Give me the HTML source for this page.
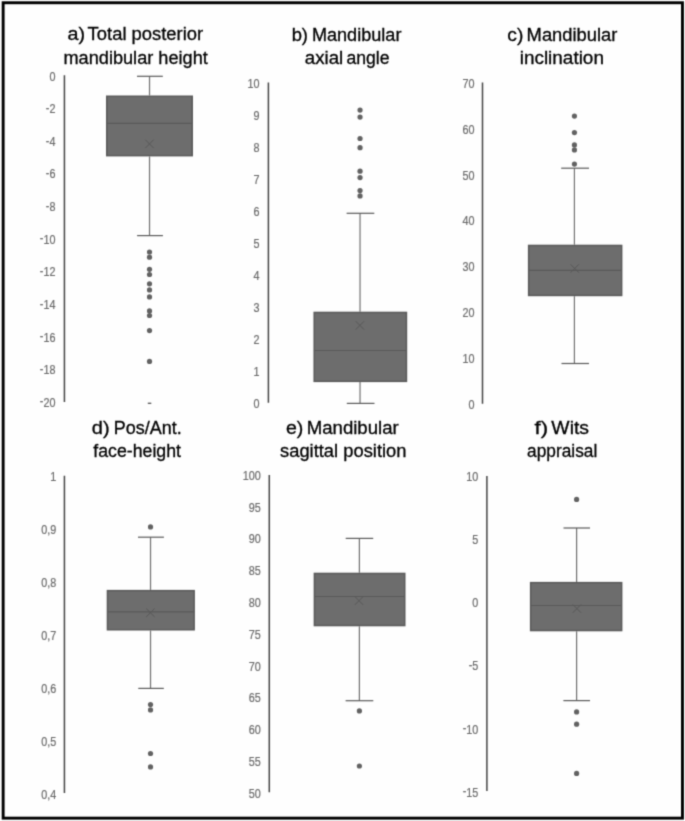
<!DOCTYPE html><html><head><meta charset="utf-8"><title>Box plots</title>
<style>html,body{margin:0;padding:0;background:#fff;}body{width:685px;height:821px;overflow:hidden;}svg{display:block;}text{font-family:"Liberation Sans",sans-serif;}</style></head><body>
<svg width="685" height="821" viewBox="0 0 685 821">
<defs><filter id="soft" filterUnits="userSpaceOnUse" x="0" y="0" width="685" height="821" color-interpolation-filters="sRGB"><feConvolveMatrix order="3" kernelMatrix="1 4 1 4 16 4 1 4 1" divisor="36" edgeMode="duplicate"/></filter></defs>
<rect x="0" y="0" width="685" height="821" fill="#fefefe"/>
<g filter="url(#soft)">
<text transform="scale(1,1)" x="67.49" y="40" font-size="17.5" fill="#000000" stroke="#000000" stroke-width="0.3" textLength="17.53" lengthAdjust="spacingAndGlyphs">a)</text>
<text transform="scale(1,1)" x="87.64" y="40" font-size="17.5" fill="#000000" stroke="#000000" stroke-width="0.3" textLength="115.49" lengthAdjust="spacingAndGlyphs">Total posterior</text>
<text transform="scale(1,1)" x="63.5" y="63.5" font-size="17.5" fill="#000000" stroke="#000000" stroke-width="0.3" textLength="144.27" lengthAdjust="spacingAndGlyphs">mandibular height</text>
<text transform="scale(1,1)" x="291.65" y="40.6" font-size="17.5" fill="#000000" stroke="#000000" stroke-width="0.3" textLength="16.36" lengthAdjust="spacingAndGlyphs">b)</text>
<text transform="scale(1,1)" x="311.9" y="40.6" font-size="17.5" fill="#000000" stroke="#000000" stroke-width="0.3" textLength="89.53" lengthAdjust="spacingAndGlyphs">Mandibular</text>
<text transform="scale(1,1)" x="304.85" y="64.2" font-size="17.5" fill="#000000" stroke="#000000" stroke-width="0.3" textLength="38.41" lengthAdjust="spacingAndGlyphs">axial</text>
<text transform="scale(1,1)" x="346.42" y="64.2" font-size="17.5" fill="#000000" stroke="#000000" stroke-width="0.3" textLength="43.08" lengthAdjust="spacingAndGlyphs">angle</text>
<text transform="scale(1,1)" x="507.25" y="40.8" font-size="17.5" fill="#000000" stroke="#000000" stroke-width="0.3" textLength="16.05" lengthAdjust="spacingAndGlyphs">c)</text>
<text transform="scale(1,1)" x="526.62" y="40.8" font-size="17.5" fill="#000000" stroke="#000000" stroke-width="0.3" textLength="90.75" lengthAdjust="spacingAndGlyphs">Mandibular</text>
<text transform="scale(1,1)" x="519.69" y="64.3" font-size="17.5" fill="#000000" stroke="#000000" stroke-width="0.3" textLength="84.24" lengthAdjust="spacingAndGlyphs">inclination</text>
<text transform="scale(1,1)" x="91.89" y="434.2" font-size="17.5" fill="#000000" stroke="#000000" stroke-width="0.3" textLength="17.8" lengthAdjust="spacingAndGlyphs">d)</text>
<text transform="scale(1,1)" x="113.89" y="434.2" font-size="17.5" fill="#000000" stroke="#000000" stroke-width="0.3" textLength="67.84" lengthAdjust="spacingAndGlyphs">Pos/Ant.</text>
<text transform="scale(1,1)" x="93.27" y="456.8" font-size="17.5" fill="#000000" stroke="#000000" stroke-width="0.3" textLength="87.72" lengthAdjust="spacingAndGlyphs">face-height</text>
<text transform="scale(1,1)" x="285.94" y="433.7" font-size="17.5" fill="#000000" stroke="#000000" stroke-width="0.3" textLength="17.38" lengthAdjust="spacingAndGlyphs">e)</text>
<text transform="scale(1,1)" x="306.75" y="433.7" font-size="17.5" fill="#000000" stroke="#000000" stroke-width="0.3" textLength="91.95" lengthAdjust="spacingAndGlyphs">Mandibular</text>
<text transform="scale(1,1)" x="280.03" y="456.6" font-size="17.5" fill="#000000" stroke="#000000" stroke-width="0.3" textLength="126.46" lengthAdjust="spacingAndGlyphs">sagittal position</text>
<text transform="scale(1,1)" x="534.51" y="434.1" font-size="17.5" fill="#000000" stroke="#000000" stroke-width="0.3" textLength="13.65" lengthAdjust="spacingAndGlyphs">f)</text>
<text transform="scale(1,1)" x="551.37" y="434.1" font-size="17.5" fill="#000000" stroke="#000000" stroke-width="0.3" textLength="37.66" lengthAdjust="spacingAndGlyphs">Wits</text>
<text transform="scale(1,1)" x="527.09" y="457" font-size="17.5" fill="#000000" stroke="#000000" stroke-width="0.3" textLength="70.18" lengthAdjust="spacingAndGlyphs">appraisal</text>
<line x1="64.43" y1="75.3" x2="64.43" y2="402" stroke="#454545" stroke-width="1.5"/>
<text transform="scale(0.9,1)" x="61.56" y="80.59" font-size="12" fill="#6a6a6a" stroke="#6a6a6a" stroke-width="0.2" text-anchor="end">0</text>
<text transform="scale(0.9,1)" x="61.56" y="113.21" font-size="12" fill="#6a6a6a" stroke="#6a6a6a" stroke-width="0.2" text-anchor="end"><tspan dy="-1.3">-</tspan><tspan dy="1.3">2</tspan></text>
<text transform="scale(0.9,1)" x="61.56" y="145.82" font-size="12" fill="#6a6a6a" stroke="#6a6a6a" stroke-width="0.2" text-anchor="end"><tspan dy="-1.3">-</tspan><tspan dy="1.3">4</tspan></text>
<text transform="scale(0.9,1)" x="61.56" y="178.44" font-size="12" fill="#6a6a6a" stroke="#6a6a6a" stroke-width="0.2" text-anchor="end"><tspan dy="-1.3">-</tspan><tspan dy="1.3">6</tspan></text>
<text transform="scale(0.9,1)" x="61.56" y="211.05" font-size="12" fill="#6a6a6a" stroke="#6a6a6a" stroke-width="0.2" text-anchor="end"><tspan dy="-1.3">-</tspan><tspan dy="1.3">8</tspan></text>
<text transform="scale(0.9,1)" x="61.56" y="243.67" font-size="12" fill="#6a6a6a" stroke="#6a6a6a" stroke-width="0.2" text-anchor="end"><tspan dy="-1.3">-</tspan><tspan dy="1.3">10</tspan></text>
<text transform="scale(0.9,1)" x="61.56" y="276.29" font-size="12" fill="#6a6a6a" stroke="#6a6a6a" stroke-width="0.2" text-anchor="end"><tspan dy="-1.3">-</tspan><tspan dy="1.3">12</tspan></text>
<text transform="scale(0.9,1)" x="61.56" y="308.9" font-size="12" fill="#6a6a6a" stroke="#6a6a6a" stroke-width="0.2" text-anchor="end"><tspan dy="-1.3">-</tspan><tspan dy="1.3">14</tspan></text>
<text transform="scale(0.9,1)" x="61.56" y="341.52" font-size="12" fill="#6a6a6a" stroke="#6a6a6a" stroke-width="0.2" text-anchor="end"><tspan dy="-1.3">-</tspan><tspan dy="1.3">16</tspan></text>
<text transform="scale(0.9,1)" x="61.56" y="374.13" font-size="12" fill="#6a6a6a" stroke="#6a6a6a" stroke-width="0.2" text-anchor="end"><tspan dy="-1.3">-</tspan><tspan dy="1.3">18</tspan></text>
<text transform="scale(0.9,1)" x="61.56" y="406.75" font-size="12" fill="#6a6a6a" stroke="#6a6a6a" stroke-width="0.2" text-anchor="end"><tspan dy="-1.3">-</tspan><tspan dy="1.3">20</tspan></text>
<line x1="149.52" y1="76.3" x2="149.52" y2="95.5" stroke="#707070" stroke-width="1.2"/>
<line x1="149.52" y1="156.4" x2="149.52" y2="235.6" stroke="#707070" stroke-width="1.2"/>
<line x1="137" y1="76.3" x2="162.8" y2="76.3" stroke="#5a5a5a" stroke-width="1.2"/>
<line x1="137.1" y1="235.6" x2="162.9" y2="235.6" stroke="#5a5a5a" stroke-width="1.2"/>
<rect x="106.75" y="96.25" width="85.5" height="59.4" fill="#6d6d6d" stroke="#5a5a5a" stroke-width="1.5"/>
<line x1="106.5" y1="123.3" x2="192.5" y2="123.3" stroke="#5a5a5a" stroke-width="1.2"/>
<path d="M145.3 139.7L153.7 148.1M145.3 148.1L153.7 139.7" stroke="#585858" stroke-width="1" fill="none"/>
<circle cx="149.52" cy="252" r="2.6" fill="#626262"/>
<circle cx="149.52" cy="257.2" r="2.6" fill="#626262"/>
<circle cx="149.52" cy="269.3" r="2.6" fill="#626262"/>
<circle cx="149.52" cy="274.5" r="2.6" fill="#626262"/>
<circle cx="149.52" cy="283.8" r="2.6" fill="#626262"/>
<circle cx="149.52" cy="289.9" r="2.6" fill="#626262"/>
<circle cx="149.52" cy="296.9" r="2.6" fill="#626262"/>
<circle cx="149.52" cy="310.9" r="2.6" fill="#626262"/>
<circle cx="149.52" cy="315.5" r="2.6" fill="#626262"/>
<circle cx="149.52" cy="330.6" r="2.6" fill="#626262"/>
<circle cx="149.52" cy="361.4" r="2.6" fill="#626262"/>
<line x1="268.4" y1="82.5" x2="268.4" y2="402.8" stroke="#454545" stroke-width="1.5"/>
<text transform="scale(0.9,1)" x="288.22" y="87.54" font-size="12" fill="#6a6a6a" stroke="#6a6a6a" stroke-width="0.2" text-anchor="end">10</text>
<text transform="scale(0.9,1)" x="288.22" y="119.61" font-size="12" fill="#6a6a6a" stroke="#6a6a6a" stroke-width="0.2" text-anchor="end">9</text>
<text transform="scale(0.9,1)" x="288.22" y="151.68" font-size="12" fill="#6a6a6a" stroke="#6a6a6a" stroke-width="0.2" text-anchor="end">8</text>
<text transform="scale(0.9,1)" x="288.22" y="183.75" font-size="12" fill="#6a6a6a" stroke="#6a6a6a" stroke-width="0.2" text-anchor="end">7</text>
<text transform="scale(0.9,1)" x="288.22" y="215.82" font-size="12" fill="#6a6a6a" stroke="#6a6a6a" stroke-width="0.2" text-anchor="end">6</text>
<text transform="scale(0.9,1)" x="288.22" y="247.89" font-size="12" fill="#6a6a6a" stroke="#6a6a6a" stroke-width="0.2" text-anchor="end">5</text>
<text transform="scale(0.9,1)" x="288.22" y="279.96" font-size="12" fill="#6a6a6a" stroke="#6a6a6a" stroke-width="0.2" text-anchor="end">4</text>
<text transform="scale(0.9,1)" x="288.22" y="312.03" font-size="12" fill="#6a6a6a" stroke="#6a6a6a" stroke-width="0.2" text-anchor="end">3</text>
<text transform="scale(0.9,1)" x="288.22" y="344.1" font-size="12" fill="#6a6a6a" stroke="#6a6a6a" stroke-width="0.2" text-anchor="end">2</text>
<text transform="scale(0.9,1)" x="288.22" y="376.17" font-size="12" fill="#6a6a6a" stroke="#6a6a6a" stroke-width="0.2" text-anchor="end">1</text>
<text transform="scale(0.9,1)" x="288.22" y="408.24" font-size="12" fill="#6a6a6a" stroke="#6a6a6a" stroke-width="0.2" text-anchor="end">0</text>
<line x1="360.04" y1="213.3" x2="360.04" y2="311.7" stroke="#707070" stroke-width="1.2"/>
<line x1="360.04" y1="382.1" x2="360.04" y2="403.4" stroke="#707070" stroke-width="1.2"/>
<line x1="346.6" y1="213.3" x2="374.3" y2="213.3" stroke="#5a5a5a" stroke-width="1.2"/>
<line x1="346.8" y1="403.4" x2="374.5" y2="403.4" stroke="#5a5a5a" stroke-width="1.2"/>
<rect x="314.2" y="312.45" width="92.25" height="68.9" fill="#6d6d6d" stroke="#5a5a5a" stroke-width="1.5"/>
<line x1="313.95" y1="350.5" x2="406.7" y2="350.5" stroke="#5a5a5a" stroke-width="1.2"/>
<path d="M355.7 321.2L364.1 329.6M355.7 329.6L364.1 321.2" stroke="#585858" stroke-width="1" fill="none"/>
<circle cx="360.04" cy="110.1" r="2.6" fill="#626262"/>
<circle cx="360.04" cy="117.1" r="2.6" fill="#626262"/>
<circle cx="360.04" cy="138.5" r="2.6" fill="#626262"/>
<circle cx="360.04" cy="147.7" r="2.6" fill="#626262"/>
<circle cx="360.04" cy="171.2" r="2.6" fill="#626262"/>
<circle cx="360.04" cy="177.6" r="2.6" fill="#626262"/>
<circle cx="360.04" cy="190.6" r="2.6" fill="#626262"/>
<circle cx="360.04" cy="195.9" r="2.6" fill="#626262"/>
<line x1="482.5" y1="82.5" x2="482.5" y2="403.7" stroke="#454545" stroke-width="1.5"/>
<text transform="scale(0.9,1)" x="527.11" y="87.6" font-size="12" fill="#6a6a6a" stroke="#6a6a6a" stroke-width="0.2" text-anchor="end">70</text>
<text transform="scale(0.9,1)" x="527.11" y="133.57" font-size="12" fill="#6a6a6a" stroke="#6a6a6a" stroke-width="0.2" text-anchor="end">60</text>
<text transform="scale(0.9,1)" x="527.11" y="179.54" font-size="12" fill="#6a6a6a" stroke="#6a6a6a" stroke-width="0.2" text-anchor="end">50</text>
<text transform="scale(0.9,1)" x="527.11" y="225.51" font-size="12" fill="#6a6a6a" stroke="#6a6a6a" stroke-width="0.2" text-anchor="end">40</text>
<text transform="scale(0.9,1)" x="527.11" y="271.48" font-size="12" fill="#6a6a6a" stroke="#6a6a6a" stroke-width="0.2" text-anchor="end">30</text>
<text transform="scale(0.9,1)" x="527.11" y="317.45" font-size="12" fill="#6a6a6a" stroke="#6a6a6a" stroke-width="0.2" text-anchor="end">20</text>
<text transform="scale(0.9,1)" x="527.11" y="363.42" font-size="12" fill="#6a6a6a" stroke="#6a6a6a" stroke-width="0.2" text-anchor="end">10</text>
<text transform="scale(0.9,1)" x="527.11" y="409.39" font-size="12" fill="#6a6a6a" stroke="#6a6a6a" stroke-width="0.2" text-anchor="end">0</text>
<line x1="574.43" y1="168.2" x2="574.43" y2="244.7" stroke="#707070" stroke-width="1.2"/>
<line x1="574.43" y1="296.2" x2="574.43" y2="363.5" stroke="#707070" stroke-width="1.2"/>
<line x1="561.2" y1="168.2" x2="589" y2="168.2" stroke="#5a5a5a" stroke-width="1.2"/>
<line x1="561.5" y1="363.5" x2="589" y2="363.5" stroke="#5a5a5a" stroke-width="1.2"/>
<rect x="528.65" y="245.45" width="93" height="50" fill="#6d6d6d" stroke="#5a5a5a" stroke-width="1.5"/>
<line x1="528.4" y1="270.4" x2="621.9" y2="270.4" stroke="#5a5a5a" stroke-width="1.2"/>
<path d="M570.5 264.3L578.9 272.7M570.5 272.7L578.9 264.3" stroke="#585858" stroke-width="1" fill="none"/>
<circle cx="574.43" cy="116.1" r="2.6" fill="#626262"/>
<circle cx="574.43" cy="132.6" r="2.6" fill="#626262"/>
<circle cx="574.43" cy="144.9" r="2.6" fill="#626262"/>
<circle cx="574.43" cy="149.9" r="2.6" fill="#626262"/>
<circle cx="574.43" cy="164.1" r="2.6" fill="#626262"/>
<line x1="64.43" y1="475.8" x2="64.43" y2="793.1" stroke="#454545" stroke-width="1.5"/>
<text transform="scale(0.9,1)" x="62.44" y="481.1" font-size="12" fill="#6a6a6a" stroke="#6a6a6a" stroke-width="0.2" text-anchor="end">1</text>
<text transform="scale(0.9,1)" x="62.44" y="534.02" font-size="12" fill="#6a6a6a" stroke="#6a6a6a" stroke-width="0.2" text-anchor="end">0,9</text>
<text transform="scale(0.9,1)" x="62.44" y="586.93" font-size="12" fill="#6a6a6a" stroke="#6a6a6a" stroke-width="0.2" text-anchor="end">0,8</text>
<text transform="scale(0.9,1)" x="62.44" y="639.85" font-size="12" fill="#6a6a6a" stroke="#6a6a6a" stroke-width="0.2" text-anchor="end">0,7</text>
<text transform="scale(0.9,1)" x="62.44" y="692.77" font-size="12" fill="#6a6a6a" stroke="#6a6a6a" stroke-width="0.2" text-anchor="end">0,6</text>
<text transform="scale(0.9,1)" x="62.44" y="745.69" font-size="12" fill="#6a6a6a" stroke="#6a6a6a" stroke-width="0.2" text-anchor="end">0,5</text>
<text transform="scale(0.9,1)" x="62.44" y="798.6" font-size="12" fill="#6a6a6a" stroke="#6a6a6a" stroke-width="0.2" text-anchor="end">0,4</text>
<line x1="150.52" y1="537.2" x2="150.52" y2="589.9" stroke="#707070" stroke-width="1.2"/>
<line x1="150.52" y1="630.5" x2="150.52" y2="688.4" stroke="#707070" stroke-width="1.2"/>
<line x1="138" y1="537.2" x2="163.9" y2="537.2" stroke="#5a5a5a" stroke-width="1.2"/>
<line x1="138.3" y1="688.4" x2="163.8" y2="688.4" stroke="#5a5a5a" stroke-width="1.2"/>
<rect x="107.45" y="590.65" width="86.7" height="39.1" fill="#6d6d6d" stroke="#5a5a5a" stroke-width="1.5"/>
<line x1="107.2" y1="611.9" x2="194.4" y2="611.9" stroke="#5a5a5a" stroke-width="1.2"/>
<path d="M146.2 608.5L154.6 616.9M146.2 616.9L154.6 608.5" stroke="#585858" stroke-width="1" fill="none"/>
<circle cx="150.52" cy="526.9" r="2.6" fill="#626262"/>
<circle cx="150.52" cy="704.5" r="2.6" fill="#626262"/>
<circle cx="150.52" cy="709.9" r="2.6" fill="#626262"/>
<circle cx="150.52" cy="753.5" r="2.6" fill="#626262"/>
<circle cx="150.52" cy="766.9" r="2.6" fill="#626262"/>
<line x1="269.3" y1="474.9" x2="269.3" y2="792.2" stroke="#454545" stroke-width="1.5"/>
<text transform="scale(0.9,1)" x="289.78" y="479.84" font-size="12" fill="#6a6a6a" stroke="#6a6a6a" stroke-width="0.2" text-anchor="end">100</text>
<text transform="scale(0.9,1)" x="289.78" y="511.62" font-size="12" fill="#6a6a6a" stroke="#6a6a6a" stroke-width="0.2" text-anchor="end">95</text>
<text transform="scale(0.9,1)" x="289.78" y="543.41" font-size="12" fill="#6a6a6a" stroke="#6a6a6a" stroke-width="0.2" text-anchor="end">90</text>
<text transform="scale(0.9,1)" x="289.78" y="575.19" font-size="12" fill="#6a6a6a" stroke="#6a6a6a" stroke-width="0.2" text-anchor="end">85</text>
<text transform="scale(0.9,1)" x="289.78" y="606.98" font-size="12" fill="#6a6a6a" stroke="#6a6a6a" stroke-width="0.2" text-anchor="end">80</text>
<text transform="scale(0.9,1)" x="289.78" y="638.76" font-size="12" fill="#6a6a6a" stroke="#6a6a6a" stroke-width="0.2" text-anchor="end">75</text>
<text transform="scale(0.9,1)" x="289.78" y="670.54" font-size="12" fill="#6a6a6a" stroke="#6a6a6a" stroke-width="0.2" text-anchor="end">70</text>
<text transform="scale(0.9,1)" x="289.78" y="702.33" font-size="12" fill="#6a6a6a" stroke="#6a6a6a" stroke-width="0.2" text-anchor="end">65</text>
<text transform="scale(0.9,1)" x="289.78" y="734.11" font-size="12" fill="#6a6a6a" stroke="#6a6a6a" stroke-width="0.2" text-anchor="end">60</text>
<text transform="scale(0.9,1)" x="289.78" y="765.9" font-size="12" fill="#6a6a6a" stroke="#6a6a6a" stroke-width="0.2" text-anchor="end">55</text>
<text transform="scale(0.9,1)" x="289.78" y="797.68" font-size="12" fill="#6a6a6a" stroke="#6a6a6a" stroke-width="0.2" text-anchor="end">50</text>
<line x1="359.39" y1="538.4" x2="359.39" y2="572.7" stroke="#707070" stroke-width="1.2"/>
<line x1="359.39" y1="626.3" x2="359.39" y2="700.7" stroke="#707070" stroke-width="1.2"/>
<line x1="345.7" y1="538.4" x2="373.2" y2="538.4" stroke="#5a5a5a" stroke-width="1.2"/>
<line x1="345.6" y1="700.7" x2="373.3" y2="700.7" stroke="#5a5a5a" stroke-width="1.2"/>
<rect x="314.4" y="573.45" width="90.35" height="52.1" fill="#6d6d6d" stroke="#5a5a5a" stroke-width="1.5"/>
<line x1="314.15" y1="596.5" x2="405" y2="596.5" stroke="#5a5a5a" stroke-width="1.2"/>
<path d="M354.8 596.5L363.2 604.9M354.8 604.9L363.2 596.5" stroke="#585858" stroke-width="1" fill="none"/>
<circle cx="359.39" cy="710.9" r="2.6" fill="#626262"/>
<circle cx="359.39" cy="766" r="2.6" fill="#626262"/>
<line x1="486.9" y1="475.9" x2="486.9" y2="791.1" stroke="#454545" stroke-width="1.5"/>
<text transform="scale(0.9,1)" x="531.44" y="481.15" font-size="12" fill="#6a6a6a" stroke="#6a6a6a" stroke-width="0.2" text-anchor="end">10</text>
<text transform="scale(0.9,1)" x="531.44" y="544.24" font-size="12" fill="#6a6a6a" stroke="#6a6a6a" stroke-width="0.2" text-anchor="end">5</text>
<text transform="scale(0.9,1)" x="531.44" y="607.34" font-size="12" fill="#6a6a6a" stroke="#6a6a6a" stroke-width="0.2" text-anchor="end">0</text>
<text transform="scale(0.9,1)" x="531.44" y="670.43" font-size="12" fill="#6a6a6a" stroke="#6a6a6a" stroke-width="0.2" text-anchor="end"><tspan dy="-1.3">-</tspan><tspan dy="1.3">5</tspan></text>
<text transform="scale(0.9,1)" x="531.44" y="733.52" font-size="12" fill="#6a6a6a" stroke="#6a6a6a" stroke-width="0.2" text-anchor="end"><tspan dy="-1.3">-</tspan><tspan dy="1.3">10</tspan></text>
<text transform="scale(0.9,1)" x="531.44" y="796.62" font-size="12" fill="#6a6a6a" stroke="#6a6a6a" stroke-width="0.2" text-anchor="end"><tspan dy="-1.3">-</tspan><tspan dy="1.3">15</tspan></text>
<line x1="576.6" y1="528" x2="576.6" y2="581.9" stroke="#707070" stroke-width="1.2"/>
<line x1="576.6" y1="631.3" x2="576.6" y2="700.6" stroke="#707070" stroke-width="1.2"/>
<line x1="563.5" y1="528" x2="590" y2="528" stroke="#5a5a5a" stroke-width="1.2"/>
<line x1="563.4" y1="700.6" x2="590" y2="700.6" stroke="#5a5a5a" stroke-width="1.2"/>
<rect x="530.65" y="582.65" width="91" height="47.9" fill="#6d6d6d" stroke="#5a5a5a" stroke-width="1.5"/>
<line x1="530.4" y1="605.5" x2="621.9" y2="605.5" stroke="#5a5a5a" stroke-width="1.2"/>
<path d="M572.7 604.4L581.1 612.8M572.7 612.8L581.1 604.4" stroke="#585858" stroke-width="1" fill="none"/>
<circle cx="576.6" cy="499.4" r="2.6" fill="#626262"/>
<circle cx="576.6" cy="711.9" r="2.6" fill="#626262"/>
<circle cx="576.6" cy="724.2" r="2.6" fill="#626262"/>
<circle cx="576.6" cy="773.4" r="2.6" fill="#626262"/>
<line x1="147.8" y1="403.3" x2="151.3" y2="403.3" stroke="#555" stroke-width="1.3"/>
<rect x="3.15" y="2.75" width="679.3" height="815.4" fill="none" stroke="#000" stroke-width="2.9"/>
</g></svg></body></html>
